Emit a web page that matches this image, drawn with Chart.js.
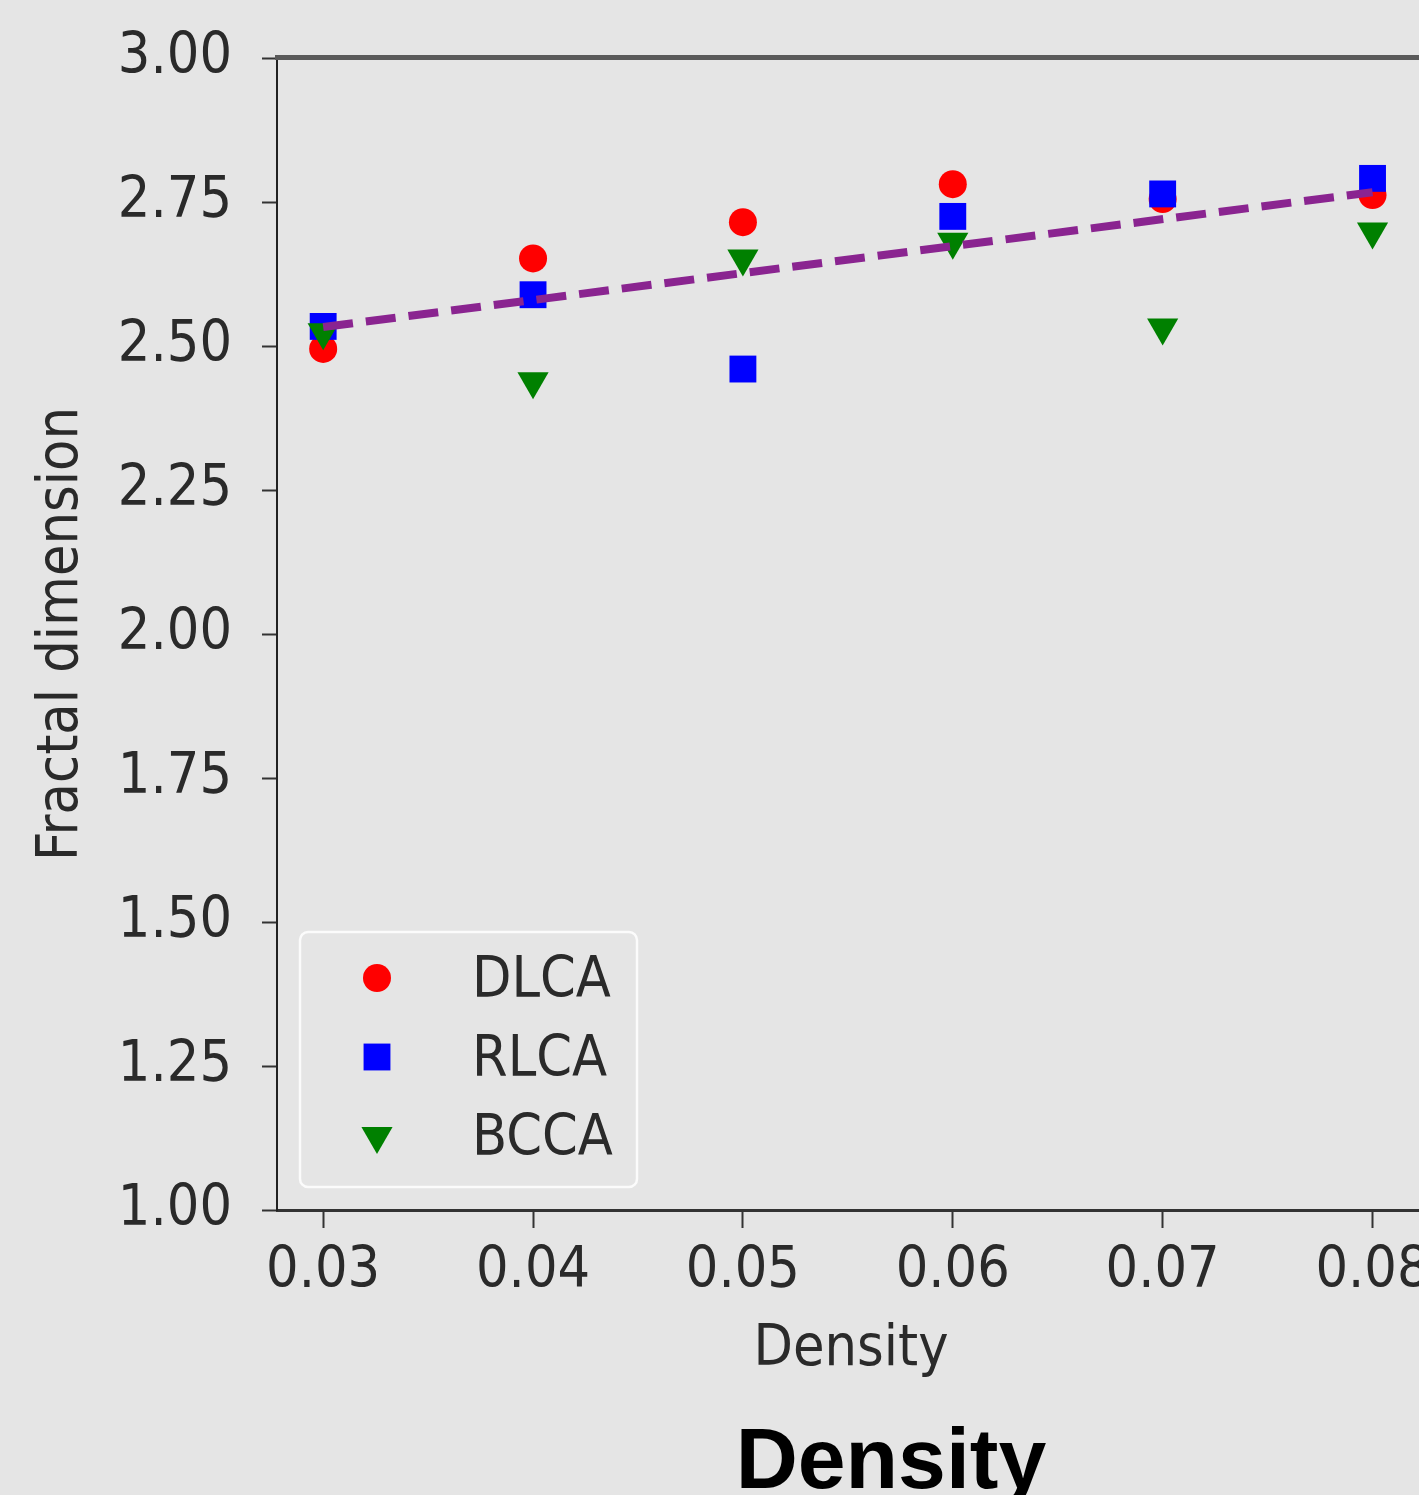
<!DOCTYPE html>
<html>
<head>
<meta charset="utf-8">
<script src="https://cdn.jsdelivr.net/npm/chart.js@4.4.0/dist/chart.umd.min.js"></script>
<style>
  html, body { margin: 0; padding: 0; background: #e5e5e5; overflow: hidden; }
  #wrap { position: relative; width: 1500px; height: 1495px; }
  #bigLabel {
    position: absolute; left: 641px; top: 1415px; width: 500px;
    text-align: center; font: bold 86px "Liberation Sans", Arial, sans-serif;
    line-height: 86px; color: #000;
  }
</style>
</head>
<body>
<div id="wrap">
  <canvas id="chart" width="1500" height="1495"></canvas>
  <div id="bigLabel">Density</div>
</div>
<script>
// data
var densities = [0.03, 0.04, 0.05, 0.06, 0.07, 0.08];
var dlca = [2.495, 2.652, 2.715, 2.781, 2.755, 2.762];
var rlca = [2.534, 2.589, 2.460, 2.725, 2.764, 2.791];
var bcca = [2.524, 2.439, 2.652, 2.681, 2.532, 2.699];
// dashed fit line, end points
var fitX = [0.03, 0.08];
var fitY = [2.533, 2.767];
var xTicks = [0.03, 0.04, 0.05, 0.06, 0.07, 0.08];
var yTicks = [1.00, 1.25, 1.50, 1.75, 2.00, 2.25, 2.50, 2.75, 3.00];

var FONT = "'DejaVu Sans Condensed', 'DejaVu Sans', sans-serif";
var textColor = '#2a2a2a';

function pts(xs, ys) {
  return xs.map(function (x, i) { return { x: x, y: ys[i] }; });
}

// top spine + legend box inside the axes (bottom left)
var framePlugin = {
  id: 'frameAndLegend',
  afterDraw: function (chart) {
    var c = chart.ctx, a = chart.chartArea;
    c.save();
    c.strokeStyle = '#5a5a5a';
    c.lineWidth = 5;
    c.beginPath();
    c.moveTo(a.left - 2, a.top - 0.5);
    c.lineTo(a.right, a.top - 0.5);
    c.stroke();

    // legend
    var bx = a.left + 23, by = a.bottom - 278, bw = 337, bh = 255;
    c.fillStyle = 'rgba(229,229,229,0.8)';
    c.strokeStyle = 'rgba(255,255,255,0.85)';
    c.lineWidth = 2.5;
    c.beginPath();
    c.roundRect(bx, by, bw, bh, 8);
    c.fill();
    c.stroke();

    var items = chart.data.datasets.filter(function (d) { return d.inLegend; });
    items.forEach(function (d, i) {
      var y = by + 46 + i * 79;
      c.fillStyle = d.pointBackgroundColor;
      Chart.helpers.drawPoint(c, {
        pointStyle: d.pointStyle, radius: d.pointRadius,
        rotation: d.pointRotation || 0, borderWidth: 0
      }, bx + 77, y);
      c.fillStyle = textColor;
      c.font = '57px ' + FONT;
      c.textBaseline = 'middle';
      c.textAlign = 'left';
      c.fillText(d.label, bx + 172, y + 4);
    });
    c.restore();
  }
};

var ctx = document.getElementById('chart').getContext('2d');
var myChart = new Chart(ctx, {
  type: 'scatter',
  data: {
    datasets: [
      {
        label: 'fit', data: pts(fitX, fitY), showLine: true,
        borderColor: '#8a2490', borderWidth: 8, borderDash: [30, 13],
        pointRadius: 0, order: 0, inLegend: false
      },
      {
        label: 'DLCA', data: pts(densities, dlca), pointStyle: 'circle',
        pointRadius: 14, pointBackgroundColor: '#ff0000', pointBorderWidth: 0,
        order: 3, inLegend: true
      },
      {
        label: 'RLCA', data: pts(densities, rlca), pointStyle: 'rect',
        pointRadius: 19, pointBackgroundColor: '#0000ff', pointBorderWidth: 0,
        order: 2, inLegend: true
      },
      {
        label: 'BCCA', data: pts(densities, bcca), pointStyle: 'triangle',
        pointRotation: 180, pointRadius: 18, pointBackgroundColor: '#008000',
        pointBorderWidth: 0, order: 1, inLegend: true
      }
    ]
  },
  options: {
    responsive: false,
    animation: false,
    events: [],
    layout: { padding: { top: 58, right: 75, left: 0, bottom: 0 } },
    plugins: { legend: { display: false }, tooltip: { enabled: false } },
    scales: {
      x: {
        type: 'linear', position: 'bottom', min: 0.0278, max: 0.0825,
        afterBuildTicks: function (s) { s.ticks = xTicks.map(function (v) { return { value: v }; }); },
        afterFit: function (s) { s.height = 285; },
        ticks: {
          callback: function (v) { return v.toFixed(2); },
          font: { family: FONT, size: 57 }, color: textColor,
          padding: 10, autoSkip: false, maxRotation: 0
        },
        grid: { drawOnChartArea: false, drawTicks: true, tickLength: 18, tickWidth: 2, tickColor: '#333' },
        border: { color: '#333', width: 3 },
        title: {
          display: true, text: 'Density', color: textColor,
          font: { family: FONT, size: 57 }, padding: { top: 0, bottom: 111 }
        }
      },
      y: {
        type: 'linear', min: 1, max: 3,
        afterBuildTicks: function (s) { s.ticks = yTicks.map(function (v) { return { value: v }; }); },
        afterFit: function (s) { s.width = 277; s.paddingTop = 0; s.paddingBottom = 0; },
        ticks: {
          callback: function (v) { return v.toFixed(2); },
          font: { family: FONT, size: 57 }, color: textColor, padding: 30
        },
        grid: { drawOnChartArea: false, drawTicks: true, tickLength: 15, tickWidth: 2, tickColor: '#333' },
        border: { color: '#222', width: 2 },
        title: {
          display: true, text: 'Fractal dimension', color: textColor,
          font: { family: FONT, size: 57 }, padding: { top: 28, bottom: 0 }
        }
      }
    }
  },
  plugins: [framePlugin]
});
</script>
</body>
</html>
